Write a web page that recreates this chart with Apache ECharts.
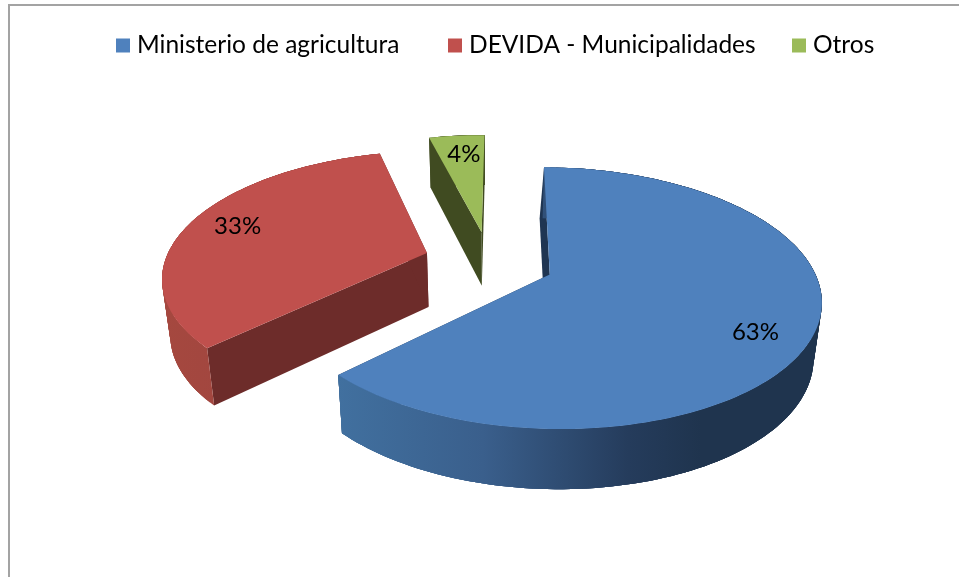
<!DOCTYPE html>
<html>
<head>
<meta charset="utf-8">
<style>
  html, body { margin: 0; padding: 0; background: #fff; }
  #chart { width: 959px; height: 577px; }
</style>
<script src="https://cdn.jsdelivr.net/npm/echarts@6/dist/echarts.min.js"></script>
</head>
<body>
<div id="chart"></div>
<script>
  // values
  var categories = ['Ministerio de agricultura', 'DEVIDA - Municipalidades', 'Otros'];
  var shares = [63, 33, 4];

  var topColors = ['#4F81BD', '#C0504D', '#9BBB59'];
  var cutColors = ['#1F3552', '#6D2C2A', '#404B21'];
  var rimStops = [
    [{ offset: 0, color: '#41709F' }, { offset: 0.3, color: '#3A5F8C' }, { offset: 0.6, color: '#253C5C' }, { offset: 0.75, color: '#1F344E' }, { offset: 1, color: '#1F344E' }],
    [{ offset: 0, color: '#A5483F' }, { offset: 1, color: '#9A4240' }],
    [{ offset: 0, color: '#404B21' }, { offset: 1, color: '#404B21' }]
  ];
  var labelNudge = [[-6, 10], [4, -3], [3, 2]];
  var cutLean = [-3, 0, 0];
  var legendLeft = [111, 443, 787];

  // tilted disc, seen in perspective
  var cx = 489, cy = 265.5, radiusX = 263, radiusY = 124, persp = 0.15;
  var startAngle = 0.5, explode = 0.25, apexLift = 0.03, labelRadius = 0.81;
  var total = shares.reduce(function (a, b) { return a + b; }, 0);

  function project(x, y) {
    var w = 1 - persp * y;
    return [cx + radiusX * x / w, cy + radiusY * y / w];
  }
  // same point on the underside of the pie
  function lower(p) {
    return [cx + (p[0] - cx) * 0.975, p[1] + 50 + (p[1] - 137) * 0.0345];
  }
  function leaned(p, dx) {
    var q = lower(p);
    return [q[0] + dx, q[1]];
  }
  function sliceAngles(idx) {
    var from = startAngle;
    for (var i = 0; i < idx; i++) from += shares[i] / total * 360;
    return [from, from + shares[idx] / total * 360];
  }
  function discPoint(ox, oy, r, deg) {
    var a = deg * Math.PI / 180;
    return project(ox + r * Math.sin(a), oy - r * Math.cos(a));
  }

  function renderSlice(idx, api) {
    var angles = sliceAngles(idx);
    var mid = (angles[0] + angles[1]) / 2 * Math.PI / 180;
    var ox = explode * Math.sin(mid), oy = -explode * Math.cos(mid);
    var apex = project(ox, oy - apexLift);
    var rim = [];
    var steps = Math.max(8, Math.round((angles[1] - angles[0]) / 1.5));
    for (var i = 0; i <= steps; i++) {
      rim.push(discPoint(ox, oy, 1, angles[0] + (angles[1] - angles[0]) * i / steps));
    }
    var first = rim[0], last = rim[rim.length - 1];
    var xs = rim.map(function (p) { return p[0]; });
    var rimFill = new echarts.graphic.LinearGradient(
      Math.min.apply(null, xs), 0, Math.max.apply(null, xs), 0, rimStops[idx], true
    );
    var labelAt = discPoint(ox, oy, labelRadius, (angles[0] + angles[1]) / 2);

    var children = [
      { type: 'polygon', shape: { points: [first, apex, leaned(apex, cutLean[idx]), leaned(first, cutLean[idx])] }, style: { fill: cutColors[idx] } },
      { type: 'polygon', shape: { points: [last, apex, lower(apex), lower(last)] }, style: { fill: cutColors[idx] } }
    ];
    // the outer wall in overlapping strips, so the silhouette stays closed without seams
    for (var j = 0; j < steps; j++) {
      var end = Math.min(j + 4, steps);
      var strip = rim.slice(j, end + 1);
      children.push({
        type: 'polygon',
        shape: { points: strip.concat(strip.map(lower).reverse()) },
        style: { fill: rimFill }
      });
    }
    children.push({ type: 'polygon', shape: { points: [apex].concat(rim) }, style: { fill: topColors[idx] } });
    children.push({
      type: 'text',
      x: labelAt[0] + labelNudge[idx][0],
      y: labelAt[1] + labelNudge[idx][1],
      style: {
        text: api.value(0) + '%',
        fill: '#000',
        font: '24px Lato',
        align: 'center',
        verticalAlign: 'middle'
      }
    });
    return { type: 'group', children: children };
  }

  var myChart = echarts.init(document.getElementById('chart'));

  // blue goes over the others
  var series = categories.map(function (name, idx) {
    return {
      name: name,
      type: 'custom',
      coordinateSystem: 'none',
      z: idx === 0 ? 3 : 2,
      itemStyle: { color: topColors[idx] },
      data: [[shares[idx]]],
      renderItem: function (params, api) { return renderSlice(idx, api); }
    };
  });

  var legends = categories.map(function (name, idx) {
    return {
      left: legendLeft[idx],
      top: 28,
      icon: 'rect',
      itemWidth: 14,
      itemHeight: 14,
      textStyle: { color: '#000', fontSize: 24.5, fontFamily: 'Lato', padding: [0, 0, 0, 2] },
      data: [name]
    };
  });

  myChart.setOption({
    animation: false,
    legend: legends,
    graphic: [
      { type: 'line', shape: { x1: 9, y1: 5, x2: 959, y2: 5 }, style: { stroke: '#A3A3A3', lineWidth: 2 } },
      { type: 'line', shape: { x1: 9, y1: 4, x2: 9, y2: 577 }, style: { stroke: '#A3A3A3', lineWidth: 2 } }
    ],
    series: series
  });
</script>
</body>
</html>
